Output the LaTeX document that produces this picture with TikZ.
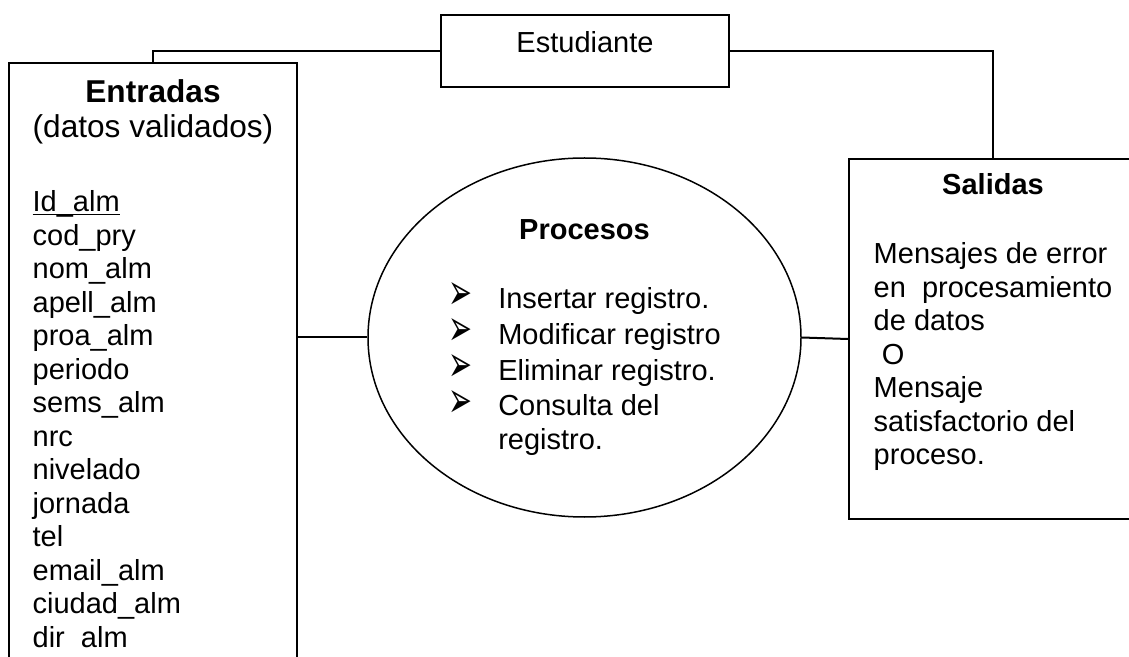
\documentclass[tikz,border=0pt]{standalone}
\usepackage{fontspec}
\usepackage{graphicx}
\setmainfont{Liberation Sans}
\newfontfamily\flechas{DejaVu Sans}
\usetikzlibrary{shapes.geometric}
\tikzset{
	caja/.style={rectangle, draw, line width=1pt, inner sep=0pt, minimum width=144pt},
	linea/.style={line width=1pt}
}
\newcommand{\punta}{\raisebox{-0.6pt}{\scalebox{1.3}[2.3]{\flechas\fontsize{11}{11}\selectfont ➢}}}

\begin{document}
\begin{tikzpicture}[x=0.5pt, y=-0.5pt, every node/.style={font=\fontsize{14.5}{16.75}\selectfont}]
	\useasboundingbox (0,0) rectangle (1129,657);
	\clip (0,0) rectangle (1129,657);
	\node (est) at (585,14) [caja, anchor=north, text height=19pt, text depth=17pt] {Estudiante};
	\node (ent) at (153,62) [caja, anchor=north, text height=20pt, text depth=320pt] {\begin{tabular}[t]{@{}l@{}}
		\multicolumn{1}{@{}c@{}}{\fontsize{15.8}{18}\selectfont\bfseries Entradas}\\[0.75pt]
		\multicolumn{1}{@{}c@{}}{\fontsize{15.8}{18}\selectfont (datos validados)}\\
		\\[3.5pt]
		\underline{\smash{Id\_alm}}\\
		cod\_pry\\
		nom\_alm\\
		apell\_alm\\
		proa\_alm\\
		periodo\\
		sems\_alm\\
		nrc\\
		nivelado\\
		jornada\\
		tel\\
		email\_alm\\
		ciudad\_alm\\
		dir\ \ alm
	\end{tabular}};
	\node (pro) at (584.5,337.5) [ellipse, draw, line width=0.75pt, inner sep=0pt, minimum width=216.5pt, minimum height=179.5pt] {\begin{tabular}{@{}l@{\hspace{13pt}}l@{}}
		\multicolumn{2}{@{}c@{}}{\bfseries Procesos}\\
		\\
		\punta & Insertar registro.\\
		\punta & Modificar registro\\
		\punta & Eliminar registro.\\
		\punta & Consulta del\\
		& registro.
	\end{tabular}};
	\node (sal) at (993,158) [caja, anchor=north, text height=18pt, text depth=162pt] {\begin{tabular}[t]{@{}l@{}}
		\multicolumn{1}{@{}c@{}}{\bfseries Salidas}\\
		\\[1pt]
		Mensajes de error\\
		en\ \ procesamiento\\
		de datos\\
		\ O\\
		Mensaje\\
		satisfactorio del\\
		proceso.
	\end{tabular}};
	\draw[linea] (est.west) -| (ent.north);
	\draw[linea] (est.east) -| (sal.north);
	\draw[linea] (pro.west) -- (pro.west -| ent.east);
	\draw[linea] (pro.east) -- (sal.west);
\end{tikzpicture}
\end{document}
